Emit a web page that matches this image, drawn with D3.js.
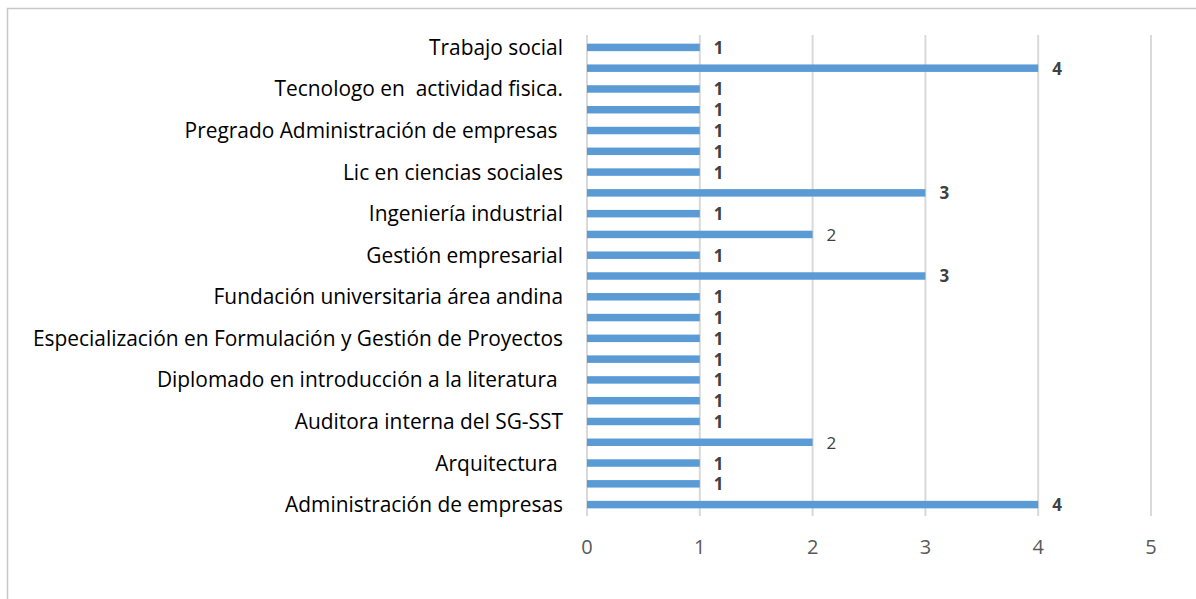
<!DOCTYPE html>
<html>
<head>
<meta charset="utf-8">
<script src="https://cdn.jsdelivr.net/npm/d3@7"></script>
<style>
  body { margin: 0; background: #fff; }
  svg { display: block; }
</style>
</head>
<body>
<div id="chart"></div>
<script>
// categories from bottom to top, as Excel draws them
const categories = [
    "Administración de empresas",
    "Administración financiera",
    "Arquitectura ",
    "Asistente administrativo",
    "Auditora interna del SG-SST",
    "Contaduría pública",
    "Diplomado en introducción a la literatura ",
    "Economía",
    "Especialización en Formulación y Gestión de Proyectos",
    "Especialización en gerencia",
    "Fundación universitaria área andina",
    "Gestión administrativa",
    "Gestión empresarial",
    "Gestión humana",
    "Ingeniería industrial",
    "Ingeniería de sistemas",
    "Lic en ciencias sociales",
    "Licenciatura en educación",
    "Pregrado Administración de empresas ",
    "Psicología",
    "Tecnologo en  actividad fisica.",
    "Técnico en contabilidad",
    "Trabajo social"
];
const values = [4, 1, 1, 2, 1, 1, 1, 1, 1, 1, 1, 3, 1, 2, 1, 3, 1, 1, 1, 1, 1, 4, 1];
const xTicks = [0, 1, 2, 3, 4, 5];

function init() {
    const width = 1196;
    const height = 599;
    const margin = { top: 37, right: 45, bottom: 84, left: 587 };
    const font = "'Open Sans', 'Noto Sans', sans-serif";

    const svg = d3.select("#chart")
        .append("svg")
        .attr("width", width)
        .attr("height", height);

    // chart frame
    svg.append("path")
        .attr("d", "M7.5,599 V8.5 H1196")
        .attr("fill", "none")
        .attr("stroke", "#c8c8c8")
        .attr("stroke-width", 1.5);

    const x = d3.scaleLinear()
        .domain([0, 5])
        .range([margin.left, 1151]);

    const y = d3.scaleBand()
        .domain(d3.range(categories.length))
        .range([height - margin.bottom, margin.top])
        .paddingInner(0.64)
        .paddingOuter(0.32);

    // vertical gridlines
    svg.append("g")
        .selectAll("line")
        .data(xTicks)
        .join("line")
        .attr("x1", d => x(d))
        .attr("x2", d => x(d))
        .attr("y1", 35)
        .attr("y2", 516)
        .attr("stroke", "#d9d9d9")
        .attr("stroke-width", 2);

    // x tick labels
    svg.append("g")
        .selectAll("text")
        .data(xTicks)
        .join("text")
        .attr("x", d => x(d))
        .attr("y", 554)
        .attr("text-anchor", "middle")
        .attr("font-family", font)
        .attr("font-size", 20)
        .attr("fill", "#595959")
        .text(d => d);

    // bars
    svg.append("g")
        .selectAll("rect")
        .data(values)
        .join("rect")
        .attr("x", x(0))
        .attr("y", (d, i) => y(i))
        .attr("width", d => x(d) - x(0))
        .attr("height", y.bandwidth())
        .attr("fill", "#5b9bd5");

    // value labels (the 2s are not bold in the original)
    svg.append("g")
        .selectAll("text")
        .data(values)
        .join("text")
        .attr("x", d => x(d) + 14)
        .attr("y", (d, i) => y(i) + y.bandwidth() / 2)
        .attr("dy", "0.38em")
        .attr("font-family", font)
        .attr("font-size", 17)
        .attr("font-weight", d => d === 2 ? "normal" : "bold")
        .attr("fill", "#404040")
        .text(d => d);

    // category labels, every second one shown
    svg.append("g")
        .selectAll("text")
        .data(categories)
        .join("text")
        .attr("x", 563)
        .attr("y", (d, i) => y(i) + y.bandwidth() / 2)
        .attr("dy", "0.36em")
        .attr("text-anchor", "end")
        .attr("font-family", font)
        .attr("font-size", 20.9)
        .attr("fill", "#000")
        .style("white-space", "pre")
        .text((d, i) => i % 2 === 0 ? d : "");
}

window.onload = init;
</script>
</body>
</html>
